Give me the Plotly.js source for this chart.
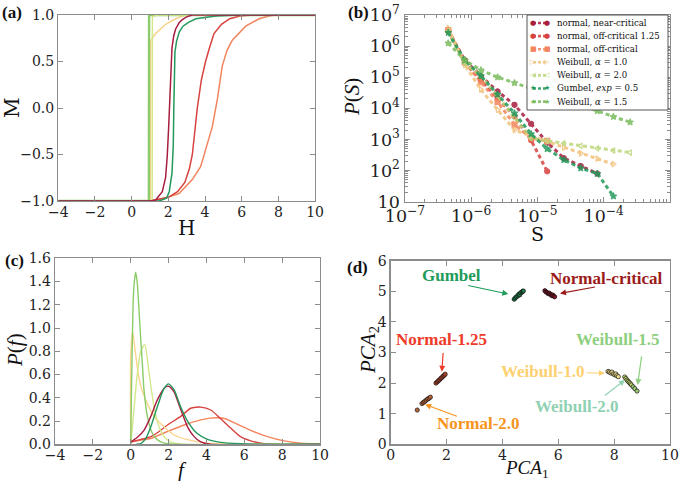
<!DOCTYPE html>
<html><head><meta charset="utf-8">
<script src="https://cdn.plot.ly/plotly-3.0.1.min.js"></script>
<style>html,body{margin:0;padding:0;background:#fff}#chart{width:685px;height:481px}</style>
</head><body><div id="chart"></div>
<script>
// ---------- Panel (a): M(H) hysteresis branches ----------
const aNearCritH = [-4, 1.0, 1.31, 1.67, 1.85, 1.94, 2.02, 2.08, 2.13, 2.2, 2.3, 2.4, 2.6, 2.76, 3.0, 3.3, 10];
const aNearCritM = [-1, -1, -0.99, -0.9, -0.75, -0.52, -0.2, 0.1, 0.45, 0.65, 0.78, 0.85, 0.92, 0.95, 0.98, 1, 1];
const aOff125H = [-4, 1.0, 2.0, 2.5, 2.9, 3.15, 3.31, 3.45, 3.58, 3.8, 4.03, 4.25, 4.49, 4.9, 5.35, 5.9, 6.6, 10];
const aOff125M = [-1, -1, -0.96, -0.9, -0.8, -0.65, -0.5, -0.25, 0, 0.3, 0.5, 0.65, 0.8, 0.9, 0.96, 0.99, 1, 1];
const aOff20H = [-4, 1.0, 1.8, 2.58, 3.31, 3.76, 4.03, 4.4, 4.67, 4.94, 5.2, 5.49, 6.22, 6.95, 7.5, 7.86, 10];
const aOff20M = [-1, -1, -0.97, -0.92, -0.77, -0.63, -0.45, -0.2, 0.09, 0.45, 0.62, 0.73, 0.88, 0.96, 0.99, 1, 1];
const aW10H = [-4, 1.02, 1.03, 1.3, 1.85, 2.4, 2.95, 10];
const aW10M = [-1, -1, 0.72, 0.8, 0.9, 0.96, 1, 1];
const aW20H = [-4, 1.12, 1.13, 1.4, 10];
const aW20M = [-1, -1, 0.98, 1, 1];
const aGumbelH = [-4, 1.5, 1.9, 2.05, 2.2, 2.27, 2.3, 2.33, 2.36, 2.45, 2.6, 2.8, 3.1, 3.5, 4.6, 5.9, 10];
const aGumbelM = [-1, -1, -0.97, -0.9, -0.7, -0.4, 0, 0.4, 0.6, 0.72, 0.82, 0.88, 0.92, 0.96, 0.99, 1, 1];
const aW15H = [-4, 0.94, 0.95, 10];
const aW15M = [-1, -1, 1, 1];

// ---------- Panel (b): avalanche size distributions ----------
const bS = [4.5e-7, 8e-7, 1.4e-6, 2.5e-6, 4.5e-6, 8e-6, 1.4e-5, 2.5e-5, 4.5e-5, 8e-5, 1.4e-4, 2.5e-4];
const bNearCrit = [3.2e6, 3.5e5, 1.1e5, 3.5e4, 1.3e4, 3.2e3, 8e2, 2.5e2, 1.4e2, 8e1];
const bOff125 = [3e6, 3e5, 8e4, 2.2e4, 5.5e3, 9.5e2, 9.5e1];
const bOff20 = [3.3e6, 3e5, 7e4, 1.6e4, 3e3, 1.1e3, 9e2];
const bW10 = [3.8e6, 2.5e5, 4e4, 9e3, 2e3, 1.3e3, 8.5e2, 5.5e2, 3.6e2, 2.4e2, 1.6e2];
const bW20 = [3e6, 2.8e5, 1.1e5, 2.5e4, 5e3, 1.1e3, 9e2, 7.5e2, 6.2e2, 5.2e2, 4.4e2, 3.8e2];
const bGumbel = [2.7e6, 3.5e5, 1.1e5, 2.8e4, 7e3, 1.5e3, 5e2, 2.2e2, 1.2e2, 8e1, 1.5e1];
const bW15 = [1.25e6, 3.5e5, 1.7e5, 1e5, 6.6e4, 4.4e4, 2.9e4, 1.9e4, 1.26e4, 8.3e3, 5.4e3, 3.6e3];
const bNames = ['normal, near-critical', 'normal, off-critical 1.25', 'normal, off-critical',
  'Weibull, <i>α</i> = 1.0', 'Weibull, <i>α</i> = 2.0', 'Gumbel, <i>exp</i> = 0.5', 'Weibull, <i>α</i> = 1.5'];

// ---------- Panel (c): threshold distributions P(f) ----------
const cNearCritF = [0, 0.35, 0.7, 1.06, 1.4, 1.76, 1.94, 2.1, 2.29, 2.64, 3.0, 3.35, 3.7, 4.2, 10];
const cNearCritP = [0.02, 0.06, 0.12, 0.24, 0.38, 0.48, 0.5, 0.49, 0.45, 0.3, 0.15, 0.066, 0.02, 0, 0];
const cOff125F = [0, 0.5, 1.06, 1.5, 1.94, 2.64, 3.17, 3.7, 4.23, 4.75, 5.28, 5.8, 6.34, 6.87, 7.5, 10];
const cOff125P = [0.02, 0.04, 0.066, 0.11, 0.166, 0.24, 0.31, 0.32, 0.295, 0.22, 0.14, 0.066, 0.03, 0.01, 0, 0];
const cOff20F = [0, 0.5, 1.06, 1.94, 2.82, 3.7, 4.2, 4.58, 5.0, 5.46, 6.34, 7.22, 8.1, 8.98, 10];
const cOff20P = [0.02, 0.035, 0.05, 0.11, 0.166, 0.21, 0.225, 0.228, 0.22, 0.186, 0.12, 0.066, 0.03, 0.01, 0.003];
const cW10F = [0, 0, 0.1, 0.2, 0.35, 0.53, 0.7, 0.88, 1.23, 1.76, 2.29, 3.0, 4.05, 5.0, 10];
const cW10P = [0, 0.75, 0.97, 0.85, 0.66, 0.5, 0.42, 0.35, 0.24, 0.15, 0.08, 0.04, 0.01, 0.002, 0];
const cW20F = [0, 0.09, 0.18, 0.35, 0.53, 0.74, 0.97, 1.23, 1.5, 1.76, 2.1, 2.6, 10];
const cW20P = [0, 0.15, 0.32, 0.61, 0.8, 0.86, 0.61, 0.32, 0.15, 0.066, 0.02, 0, 0];
const cGumbelF = [0.3, 0.53, 0.8, 1.06, 1.4, 1.76, 2.0, 2.29, 2.64, 3.0, 3.5, 4.05, 4.75, 5.8, 7, 10];
const cGumbelP = [0, 0.005, 0.05, 0.15, 0.32, 0.48, 0.52, 0.47, 0.32, 0.2, 0.095, 0.043, 0.017, 0.005, 0, 0];
const cW15F = [0, 0.04, 0.12, 0.18, 0.26, 0.35, 0.45, 0.53, 0.62, 0.7, 0.88, 1.14, 1.4, 1.76, 2.5, 10];
const cW15P = [0, 0.47, 1.18, 1.38, 1.48, 1.38, 1.12, 0.9, 0.68, 0.47, 0.24, 0.095, 0.04, 0.01, 0, 0];

// ---------- Panel (d): PCA projection ----------
const dGumbelX = [4.42, 4.46, 4.5, 4.55, 4.58, 4.62, 4.65, 4.7, 4.72, 4.75];
const dGumbelY = [4.74, 4.78, 4.82, 4.85, 4.9, 4.88, 4.95, 4.97, 5.0, 5.01];
const dCritX = [5.52, 5.56, 5.6, 5.64, 5.68, 5.72, 5.76, 5.8, 5.84, 5.87];
const dCritY = [5.02, 4.98, 4.96, 4.92, 4.94, 4.9, 4.86, 4.88, 4.84, 4.82];
const d125X = [1.62, 1.67, 1.71, 1.75, 1.79, 1.83, 1.87, 1.91, 1.95];
const d125Y = [2.0, 2.04, 2.08, 2.11, 2.15, 2.18, 2.22, 2.25, 2.29];
const d20X = [0.95, 1.12, 1.17, 1.22, 1.27, 1.32, 1.37, 1.42];
const d20Y = [1.12, 1.33, 1.37, 1.4, 1.44, 1.48, 1.5, 1.54];
const dW10X = [7.78, 7.83, 7.88, 7.92, 7.97, 8.02, 8.06, 8.1, 8.15];
const dW10Y = [2.38, 2.36, 2.33, 2.36, 2.3, 2.27, 2.3, 2.24, 2.21];
const dW20X = [8.38, 8.42, 8.46, 8.5, 8.54, 8.58, 8.62];
const dW20Y = [2.2, 2.15, 2.1, 2.06, 2.02, 1.98, 1.94];
const dW15X = [8.68, 8.74, 8.82];
const dW15Y = [1.88, 1.82, 1.74];

// ---------- styles ----------
const C = {
  crit: '#a91d3f', off125: '#d7423f', off20: '#f3855e', w10: '#fbd38d',
  w20: '#d2e88a', gumbel: '#22985a', w15: '#8ccb6a'
};
const traces = [];
function line(x, y, xa, ya, color, width, shape) {
  traces.push({x, y, xaxis: xa, yaxis: ya, type: 'scatter', mode: 'lines', showlegend: false,
    line: {color, width, shape: shape || 'linear', smoothing: 0.6}, hoverinfo: 'skip'});
}
// (a)
line(aOff20H, aOff20M, 'x', 'y', C.off20, 1.5);
line(aOff125H, aOff125M, 'x', 'y', C.off125, 1.5);
line(aW10H, aW10M, 'x', 'y', C.w10, 1.5);
line(aW15H, aW15M, 'x', 'y', C.w15, 2.4);
line(aW20H, aW20M, 'x', 'y', C.w20, 1.5);
line(aGumbelH, aGumbelM, 'x', 'y', C.gumbel, 1.5);
line(aNearCritH, aNearCritM, 'x', 'y', C.crit, 1.5);
// (b)
const bSeries = [
  [bNearCrit, C.crit, 'circle', '●'], [bOff125, C.off125, 'circle', '●'], [bOff20, C.off20, 'square', '■'],
  [bW10, '#f2c078', 'triangle-right-open', '▷'], [bW20, '#bcd77a', 'triangle-left-open', '◁'],
  [bGumbel, C.gumbel, 'star', '★'], [bW15, '#79bb5c', 'star', '★']
];
bSeries.forEach((s, i) => {
  traces.push({x: bS.slice(0, s[0].length), y: s[0], xaxis: 'x2', yaxis: 'y2', type: 'scatter',
    mode: 'lines+markers', name: bNames[i], opacity: 0.85, showlegend: false,
    line: {color: s[1], width: 3, dash: '4px,3px'},
    marker: {symbol: s[2], size: 5, color: s[1], line: {color: s[1], width: 1.2}}});
});
// (c)
line(cOff20F, cOff20P, 'x3', 'y3', C.off20, 1.4, 'spline');
line(cOff125F, cOff125P, 'x3', 'y3', C.off125, 1.4, 'spline');
line(cW10F, cW10P, 'x3', 'y3', C.w10, 1.4, 'spline');
line(cW20F, cW20P, 'x3', 'y3', C.w20, 1.4, 'spline');
line(cW15F, cW15P, 'x3', 'y3', C.w15, 1.4, 'spline');
line(cNearCritF, cNearCritP, 'x3', 'y3', C.crit, 1.4, 'spline');
line(cGumbelF, cGumbelP, 'x3', 'y3', C.gumbel, 1.4, 'spline');
// (d)
[[dGumbelX, dGumbelY, '#1f7a4a'], [dCritX, dCritY, '#7a1020'], [d125X, d125Y, '#b5442e'],
 [d20X, d20Y, '#b8643a'], [dW10X, dW10Y, '#f5e08a'], [dW20X, dW20Y, '#c8dd70'], [dW15X, dW15Y, '#9ccf74']]
.forEach(s => traces.push({x: s[0], y: s[1], xaxis: 'x4', yaxis: 'y4', type: 'scatter', mode: 'markers',
  showlegend: false, marker: {size: 4.2, color: s[2], line: {color: '#111', width: 0.7}}}));

const ax = {
  showline: true, linecolor: '#8c8c8c', linewidth: 1.3, mirror: 'ticks',
  ticks: 'inside', ticklen: 5, tickwidth: 1, tickcolor: '#8c8c8c',
  showgrid: false, zeroline: false, automargin: false, fixedrange: true,
  tickfont: {family: 'DejaVu Serif', size: 14, color: '#222'}
};
const xs = {ticklabelstandoff: -2};
const minor = {ticks: 'inside', ticklen: 3, tickwidth: 1, tickcolor: '#8c8c8c', showgrid: false};
const P = (px, py) => ({x: px / 685, y: 1 - py / 481});
function label(text, px, py, size, opts) {
  const p = P(px, py);
  return Object.assign({xref: 'paper', yref: 'paper', x: p.x, y: p.y, text, showarrow: false,
    xanchor: 'center', yanchor: 'middle', font: {family: 'DejaVu Serif', size, color: '#111'}}, opts || {});
}
const serif = {family: 'Liberation Serif', size: 21, color: '#111'};
const serifS = {family: 'Liberation Serif', size: 19, color: '#111'};
const bold = {family: 'Liberation Serif', size: 17, color: '#111'};
const annotations = [
  label('<b>(a)</b>', 12, 13, 17, {font: bold}),
  label('<b>(b)</b>', 358, 12, 17, {font: bold}),
  label('<b>(c)</b>', 14, 260, 17, {font: bold}),
  label('<b>(d)</b>', 357, 267, 17, {font: bold}),
  label('H', 186, 228, 20),
  label('M', 12, 108, 20, {textangle: -90}),
  label('S', 537, 234, 19),
  label('<i>P</i>(<i>S</i>)', 352, 97, 20, {textangle: -90, font: serif}),
  label('<i>f</i>', 182, 470, 20, {font: serif}),
  label('<i>P</i>(<i>f</i>)', 15, 350, 20, {textangle: -90, font: serif}),
  label('<i>PCA</i><sub>1</sub>', 527, 469, 19, {font: serifS}),
  label('<i>PCA</i><sub>2</sub>', 369, 350, 20, {textangle: -90, font: serif})
];
// legend of panel (b), built from the series list
const shapes = [{type: 'rect', xref: 'paper', yref: 'paper', x0: 527 / 685, x1: 668 / 685,
  y0: 1 - 110 / 481, y1: 1 - 15 / 481, line: {color: '#555', width: 1}, fillcolor: '#fff', layer: 'above'}];
bSeries.forEach((s, i) => {
  const py = 23 + 13.1 * i;
  shapes.push({type: 'line', xref: 'paper', yref: 'paper', x0: 533 / 685, x1: 547 / 685,
    y0: 1 - py / 481, y1: 1 - py / 481, line: {color: s[1], width: 2.6, dash: '3px,2px'}, opacity: 0.85, layer: 'above'});
  annotations.push(label(s[3], 533, py, 7, {font: {family: 'DejaVu Sans', size: 7, color: s[1]}}));
  annotations.push(label(s[3], 547, py, 7, {font: {family: 'DejaVu Sans', size: 7, color: s[1]}}));
  annotations.push(label(bNames[i], 555, py, 8.6, {xanchor: 'left',
    font: {family: 'DejaVu Serif', size: 8.6, color: '#111'}}));
});
const dText = [
  ['Gumbel', 2.18, 5.53, '#1f9b5a', [4.21, 4.91], [2.72, 5.2]],
  ['Normal-critical', 7.73, 5.42, '#9b1a1a', [6.06, 4.93], [7.37, 5.15]],
  ['Normal-1.25', 1.83, 3.41, '#ee3b2a', [1.83, 2.37], [1.88, 3.03]],
  ['Normal-2.0', 3.14, 0.69, '#f7941d', [1.23, 1.3], [2.42, 0.9]],
  ['Weibull-1.0', 5.46, 2.37, '#fdd070', [7.67, 2.32], [6.96, 2.34]],
  ['Weibull-1.5', 8.15, 3.41, '#8ccf7e', [8.84, 1.94], [8.99, 2.92]],
  ['Weibull-2.0', 6.66, 1.23, '#8fd1b2', [8.39, 2.1], [7.61, 1.56]]
];
dText.forEach(t => {
  annotations.push({xref: 'x4', yref: 'y4', x: t[1], y: t[2], text: '<b>' + t[0] + '</b>', showarrow: false,
    font: {family: 'Liberation Serif', size: 17, color: t[3]}});
  annotations.push({xref: 'x4', yref: 'y4', axref: 'x4', ayref: 'y4', x: t[4][0], y: t[4][1],
    ax: t[5][0], ay: t[5][1], text: '', showarrow: true, arrowhead: 2, arrowsize: 1, arrowwidth: 1.2,
    arrowcolor: t[3], standoff: 0, startstandoff: 0});
});

const layout = {
  width: 685, height: 481, margin: {l: 0, r: 0, t: 0, b: 0},
  paper_bgcolor: '#fff', plot_bgcolor: '#fff', showlegend: false,
  xaxis: Object.assign({}, ax, xs, {domain: [0.0851, 0.4599], range: [-4, 10], tick0: -4, dtick: 2, anchor: 'y'}),
  yaxis: Object.assign({}, ax, {domain: [0.5821, 0.9688], range: [-1, 1], dtick: 0.5, tickformat: '.1f', anchor: 'x'}),
  xaxis2: Object.assign({}, ax, {domain: [0.5912, 0.9781], type: 'log', range: [-7, -3], dtick: 1,
    exponentformat: 'power', anchor: 'y2', minor, ticklabelstandoff: -1}),
  yaxis2: Object.assign({}, ax, {domain: [0.5807, 0.9688], type: 'log', range: [1, 7], dtick: 1,
    exponentformat: 'power', anchor: 'x2', minor, ticklabelstandoff: 1}),
  xaxis3: Object.assign({}, ax, xs, {domain: [0.0803, 0.4672], range: [-4, 10], tick0: -4, dtick: 2, anchor: 'y3'}),
  yaxis3: Object.assign({}, ax, {domain: [0.0763, 0.463], range: [0, 1.6], dtick: 0.2, tickformat: '.1f', anchor: 'x3'}),
  xaxis4: Object.assign({}, ax, xs, {domain: [0.5704, 0.9781], range: [0, 10], dtick: 2, anchor: 'y4'}),
  yaxis4: Object.assign({}, ax, {domain: [0.0763, 0.458], range: [0, 6], dtick: 1, anchor: 'x4'}),
  shapes, annotations
};
Plotly.newPlot('chart', traces, layout, {staticPlot: true, displayModeBar: false});
</script></body></html>
